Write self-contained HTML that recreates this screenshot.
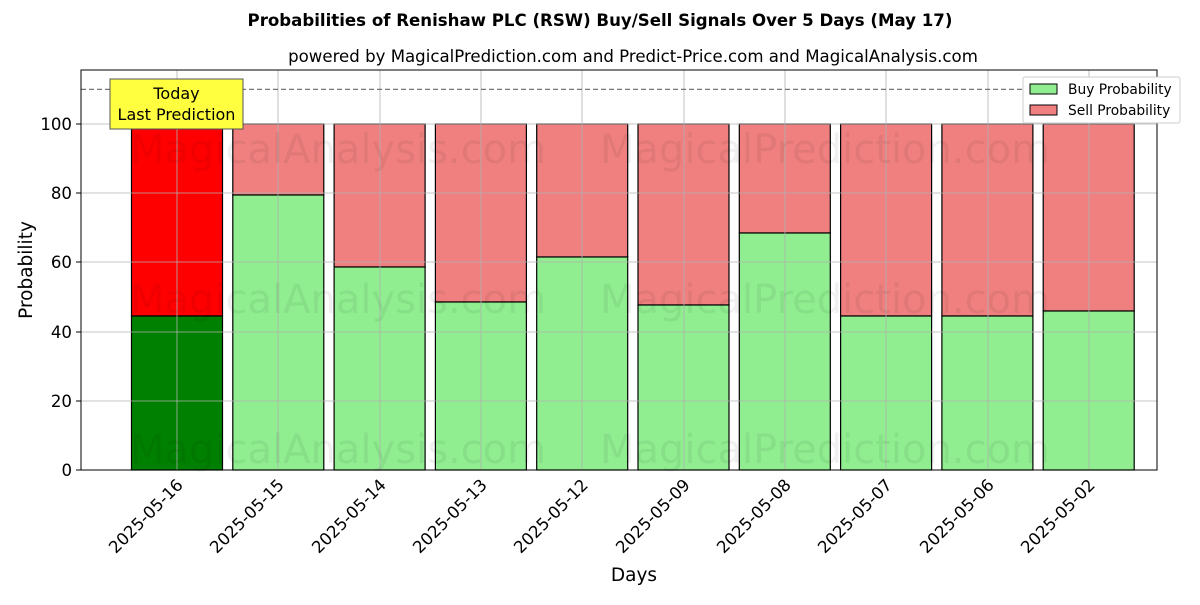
<!DOCTYPE html>
<html><head><meta charset="utf-8"><style>body{margin:0;background:#fff}</style></head><body>
<svg width="1200" height="600" xmlns="http://www.w3.org/2000/svg" font-family="'DejaVu Sans', 'Liberation Sans', sans-serif">
<rect width="1200" height="600" fill="#fff"/>
<text x="600" y="26" text-anchor="middle" font-size="16.6" font-weight="bold">Probabilities of Renishaw PLC (RSW) Buy/Sell Signals Over 5 Days (May 17)</text>
<text x="633" y="62" text-anchor="middle" font-size="16.6">powered by MagicalPrediction.com and Predict-Price.com and MagicalAnalysis.com</text>
<g id="bars" stroke="#000" stroke-width="1.2">
<rect x="131.5" y="124" width="91" height="192" fill="#ff0000"/><rect x="131.5" y="316" width="91" height="154" fill="#008000"/>
<rect x="232.8" y="124" width="91" height="71" fill="#f08080"/><rect x="232.8" y="195" width="91" height="275" fill="#90ee90"/>
<rect x="334.1" y="124" width="91" height="143" fill="#f08080"/><rect x="334.1" y="267" width="91" height="203" fill="#90ee90"/>
<rect x="435.4" y="124" width="91" height="178" fill="#f08080"/><rect x="435.4" y="302" width="91" height="168" fill="#90ee90"/>
<rect x="536.7" y="124" width="91" height="133" fill="#f08080"/><rect x="536.7" y="257" width="91" height="213" fill="#90ee90"/>
<rect x="638" y="124" width="91" height="181" fill="#f08080"/><rect x="638" y="305" width="91" height="165" fill="#90ee90"/>
<rect x="739.3" y="124" width="91" height="109" fill="#f08080"/><rect x="739.3" y="233" width="91" height="237" fill="#90ee90"/>
<rect x="840.6" y="124" width="91" height="192" fill="#f08080"/><rect x="840.6" y="316" width="91" height="154" fill="#90ee90"/>
<rect x="941.9" y="124" width="91" height="192" fill="#f08080"/><rect x="941.9" y="316" width="91" height="154" fill="#90ee90"/>
<rect x="1043.2" y="124" width="91" height="187" fill="#f08080"/><rect x="1043.2" y="311" width="91" height="159" fill="#90ee90"/>
</g>
<g stroke="#b0b0b0" stroke-width="0.8">
<line x1="81" x2="1157" y1="470" y2="470"/><line x1="81" x2="1157" y1="401" y2="401"/><line x1="81" x2="1157" y1="332" y2="332"/><line x1="81" x2="1157" y1="262" y2="262"/><line x1="81" x2="1157" y1="193" y2="193"/><line x1="81" x2="1157" y1="124" y2="124"/>
<line y1="70" y2="470" x1="177" x2="177"/><line y1="70" y2="470" x1="278" x2="278"/><line y1="70" y2="470" x1="380" x2="380"/><line y1="70" y2="470" x1="481" x2="481"/><line y1="70" y2="470" x1="582" x2="582"/><line y1="70" y2="470" x1="684" x2="684"/><line y1="70" y2="470" x1="785" x2="785"/><line y1="70" y2="470" x1="886" x2="886"/><line y1="70" y2="470" x1="988" x2="988"/><line y1="70" y2="470" x1="1089" x2="1089"/>
</g>
<g font-size="40" fill="#000" fill-opacity="0.06">
<text x="130" y="163">MagicalAnalysis.com</text><text x="600" y="163">MagicalPrediction.com</text>
<text x="130" y="313">MagicalAnalysis.com</text><text x="600" y="313">MagicalPrediction.com</text>
<text x="130" y="463">MagicalAnalysis.com</text><text x="600" y="463">MagicalPrediction.com</text>
</g>
<line x1="81" x2="1157" y1="89.4" y2="89.4" stroke="#777" stroke-dasharray="5,3" stroke-width="1.2"/>
<rect x="81" y="70" width="1076" height="400" fill="none" stroke="#000" stroke-width="1"/>
<rect x="110" y="79" width="133" height="50" fill="#ffff40" stroke="#555"/>
<text x="176.5" y="99" text-anchor="middle" font-size="16">Today</text>
<text x="176.5" y="120" text-anchor="middle" font-size="16">Last Prediction</text>
<g font-size="16.6" text-anchor="end">
<text x="72" y="476">0</text><text x="72" y="407">20</text><text x="72" y="338">40</text><text x="72" y="268">60</text><text x="72" y="199">80</text><text x="72" y="130">100</text>
</g>
<g stroke="#000"><line x1="76" x2="81" y1="470" y2="470"/><line x1="76" x2="81" y1="401" y2="401"/><line x1="76" x2="81" y1="332" y2="332"/><line x1="76" x2="81" y1="262" y2="262"/><line x1="76" x2="81" y1="193" y2="193"/><line x1="76" x2="81" y1="124" y2="124"/></g>
<g font-size="16.6" text-anchor="end">
<text transform="translate(184,486) rotate(-45)">2025-05-16</text>
<text transform="translate(285,486) rotate(-45)">2025-05-15</text>
<text transform="translate(387,486) rotate(-45)">2025-05-14</text>
<text transform="translate(488,486) rotate(-45)">2025-05-13</text>
<text transform="translate(589,486) rotate(-45)">2025-05-12</text>
<text transform="translate(691,486) rotate(-45)">2025-05-09</text>
<text transform="translate(792,486) rotate(-45)">2025-05-08</text>
<text transform="translate(893,486) rotate(-45)">2025-05-07</text>
<text transform="translate(995,486) rotate(-45)">2025-05-06</text>
<text transform="translate(1096,486) rotate(-45)">2025-05-02</text>
</g>
<text x="634" y="581" text-anchor="middle" font-size="18.5">Days</text>
<text transform="translate(32,270) rotate(-90)" text-anchor="middle" font-size="18.5">Probability</text>
<rect x="1023" y="77" width="157" height="46" fill="#fff" stroke="#ccc" rx="2"/>
<rect x="1030" y="84" width="27" height="10" fill="#90ee90" stroke="#000"/>
<text x="1068" y="94" font-size="13.8">Buy Probability</text>
<rect x="1030" y="105" width="27" height="10" fill="#f08080" stroke="#000"/>
<text x="1068" y="115" font-size="13.8">Sell Probability</text>
</svg>
</body></html>
